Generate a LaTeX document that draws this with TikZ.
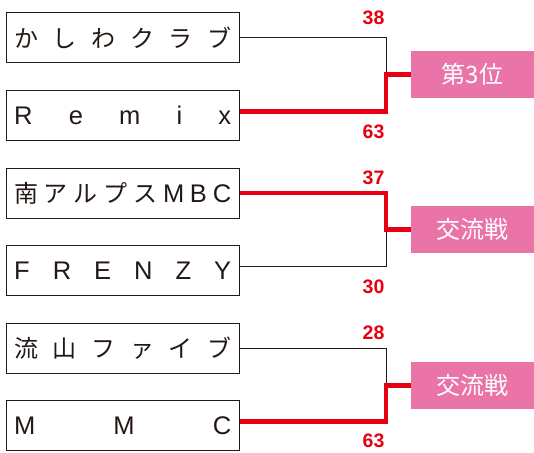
\documentclass[tikz,border=0pt]{standalone}
\usepackage{fontspec}
\newfontfamily\jpfont{Noto Sans CJK JP}
\newfontfamily\latfont{Liberation Sans}
\definecolor{ink}{HTML}{231815}
\definecolor{winred}{HTML}{E60012}
\definecolor{resultpink}{HTML}{EA74A8}
\newcommand{\spreadtext}[1]{\makebox[217pt][s]{#1}}
\newcommand{\latbig}{\latfont\fontsize{25.5}{25.5}\selectfont}
\begin{document}
\begin{tikzpicture}[x=1pt,y=-1pt,
  team/.style={draw=ink, line width=1pt, minimum width=233pt, minimum height=50pt,
    inner sep=0pt, text=ink, font=\jpfont\fontsize{24}{24}\selectfont},
  result/.style={fill=resultpink, minimum width=123pt, minimum height=47pt,
    inner sep=0pt, text=white, font=\jpfont\fontsize{24}{24}\selectfont},
  lose/.style={draw=ink, line width=1pt},
  win/.style={draw=winred, line width=4.6pt},
  score/.style={text=winred, font=\latfont\bfseries\fontsize{19.5}{19.5}\selectfont, inner sep=0pt}]
\useasboundingbox (0,0) rectangle (534,452);
% teams
\node[team] (t1) at (122.7,37.7) {\spreadtext{か\hfill し\hfill わ\hfill ク\hfill ラ\hfill ブ}};
\node[team] (t2) at (122.7,115) {\latbig\spreadtext{R\hfill e\hfill m\hfill i\hfill x}};
\node[team] (t3) at (122.7,193) {\spreadtext{南\hfill ア\hfill ル\hfill プ\hfill ス\hfill {\latbig M}\hfill {\latbig B}\hfill {\latbig C}}};
\node[team] (t4) at (122.7,270.7) {\latbig\spreadtext{F\hfill R\hfill E\hfill N\hfill Z\hfill Y}};
\node[team] (t5) at (122.7,348.3) {\spreadtext{流\hfill 山\hfill フ\hfill ァ\hfill イ\hfill ブ}};
\node[team] (t6) at (122.7,425.7) {\latbig\spreadtext{M\hfill M\hfill C}};
% results
\node[result] (r1) at (472.5,74.5) {第3位};
\node[result] (r2) at (472.5,229.5) {交流戦};
\node[result] (r3) at (472.5,385.5) {交流戦};
% junctions
\coordinate (j1) at (386,74.5);
\coordinate (j2) at (386,229.5);
\coordinate (j3) at (386,385.5);
% connectors
\draw[lose] (t1.east) -| (j1);
\draw[win] ([yshift=3.3pt]t2.east) -| (j1) -- (r1.west);
\draw[lose] ([yshift=4pt]t4.east) -| (j2);
\draw[win] (t3.east) -| (j2) -- (r2.west);
\draw[lose] (t5.east) -| (j3);
\draw[win] ([yshift=4pt]t6.east) -| (j3) -- (r3.west);
% scores
\node[score] (s1) at (373.5,17.5) {38};
\node[score] (s2) at (373.5,132) {63};
\node[score] (s3) at (373.5,178) {37};
\node[score] (s4) at (373.5,287) {30};
\node[score] (s5) at (373.5,333) {28};
\node[score] (s6) at (373.5,441) {63};
\end{tikzpicture}
\end{document}
